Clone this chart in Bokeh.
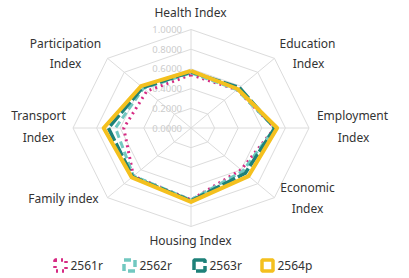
import math
from bokeh.plotting import figure
from bokeh.models import Range1d
from bokeh.core.properties import value
from bokeh.embed import file_html
from bokeh.resources import INLINE

categories = ["Health Index", "Education Index", "Employment Index", "Economic Index",
              "Housing Index", "Family index", "Transport Index", "Participation Index"]
series_names = ["2561r", "2562r", "2563r", "2564p"]
v2561 = [0.54, 0.55, 0.71, 0.60, 0.73, 0.69, 0.57, 0.53]
v2562 = [0.56, 0.55, 0.71, 0.62, 0.73, 0.69, 0.64, 0.57]
v2563 = [0.57, 0.58, 0.71, 0.65, 0.74, 0.70, 0.70, 0.58]
v2564 = [0.58, 0.56, 0.73, 0.69, 0.75, 0.71, 0.74, 0.60]
ring_values = [0.2, 0.4, 0.6, 0.8, 1.0]
ring_labels = ["0.0000", "0.2000", "0.4000", "0.6000", "0.8000", "1.0000"]

FONT = "Noto Sans"
W, H = 409, 278
CX, CY = 190.5, 127.5          # centre in figure pixels (from top-left)
RX, RY = 118.0, 98.5           # pixels per unit radius

p = figure(width=W, height=H, output_backend="svg", toolbar_location=None,
           x_range=Range1d(-CX / RX, (W - CX) / RX),
           y_range=Range1d(-(H - CY) / RY, CY / RY),
           min_border=0)
p.axis.visible = False
p.grid.visible = False
p.outline_line_color = None
p.background_fill_color = "white"

n = len(categories)
angles = [math.pi / 2 - i * 2 * math.pi / n for i in range(n)]


def px(x, y):
    # figure pixel coords -> data coords
    return (x - CX) / RX, (CY - y) / RY


# grid rings
for r in ring_values:
    xs = [r * math.cos(a) for a in angles] + [r * math.cos(angles[0])]
    ys = [r * math.sin(a) for a in angles] + [r * math.sin(angles[0])]
    p.line(xs, ys, line_color="#dcdcdc", line_width=1)
# spokes
for a in angles:
    p.line([0, math.cos(a)], [0, math.sin(a)], line_color="#dcdcdc", line_width=1)

# ring labels
rl_vals = [0.0] + ring_values
p.text(x=[-9 / RX] * len(rl_vals), y=rl_vals, text=ring_labels,
       text_font=value(FONT), text_font_size="9.5px", text_color="#cccccc",
       text_align="right", text_baseline="middle")

styles = [
    dict(line_color="#d62a83", line_width=3, line_dash="dotted"),
    dict(line_color="#72c8c0", line_width=3, line_dash="7 4"),
    dict(line_color="#1e8179", line_width=3.5, line_dash="14 3"),
    dict(line_color="#f4c01e", line_width=4, line_dash="solid"),
]
all_vals = [v2561, v2562, v2563, v2564]
for vals, st in zip(all_vals, styles):
    xs = [v * math.cos(a) for v, a in zip(vals, angles)]
    ys = [v * math.sin(a) for v, a in zip(vals, angles)]
    xs.append(xs[0]); ys.append(ys[0])
    p.line(xs, ys, line_join="round", **st)

# category labels (split into lines)
label_pos = [
    [(190, 12)],
    [(307, 43), (308, 63)],
    [(352, 115), (353, 137)],
    [(307, 187), (307, 208)],
    [(190, 240)],
    [(63, 198)],
    [(38, 115), (38, 137)],
    [(65, 43), (65, 63)],
]
lx, ly, lt = [], [], []
for cat, poss in zip(categories, label_pos):
    if len(poss) == 1:
        parts = [cat]
    else:
        parts = cat.rsplit(" ", 1)
    for (x, y), t in zip(poss, parts):
        dx, dy = px(x, y)
        lx.append(dx); ly.append(dy); lt.append(t)
p.text(x=lx, y=ly, text=lt, text_font=value(FONT), text_font_size="12px",
       text_color="#333333", text_align="center", text_baseline="middle")

# legend
icon_x = [60, 129, 199, 267]
leg_y = 265
for ix, st, name in zip(icon_x, styles, series_names):
    x, y = px(ix, leg_y)
    kw = dict(st)
    kw["line_width"] = 3.5
    p.rect(x=[x], y=[y], width=11, height=11, width_units="screen", height_units="screen",
           fill_color=None, **kw)
    tx, ty = px(ix + 10, leg_y)
    p.text(x=[tx], y=[ty], text=[name], text_font=value(FONT), text_font_size="12px",
           text_color="#333333", text_align="left", text_baseline="middle")

open("out.html", "w").write(file_html(p, INLINE))
